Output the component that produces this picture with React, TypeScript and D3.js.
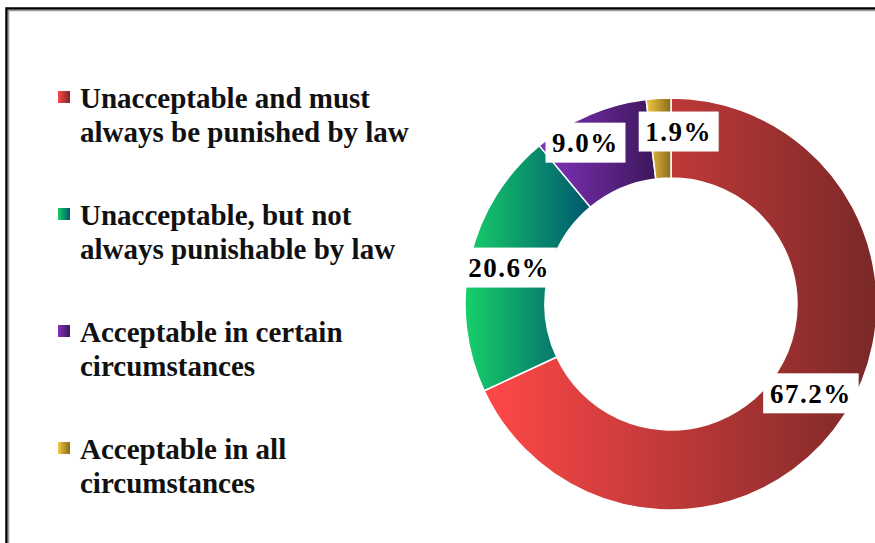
import React from "react";
import * as d3 from "d3";

const categories = [
  "Unacceptable and must always be punished by law",
  "Unacceptable, but not always punishable by law",
  "Acceptable in certain circumstances",
  "Acceptable in all circumstances",
];
const legendLines = [
  ["Unacceptable and must", "always be punished by law"],
  ["Unacceptable, but not", "always punishable by law"],
  ["Acceptable in certain", "circumstances"],
  ["Acceptable in all", "circumstances"],
];
const values = [67.2, 20.6, 9.0, 1.9];
const valueLabels = ["67.2%", "20.6%", "9.0%", "1.9%"];
const gradientStops = [
  ["#ff4848", "#7a2828"],
  ["#17d068", "#00566f"],
  ["#8332bc", "#3c175c"],
  ["#f2cb44", "#8a6a1a"],
];
// manual nudges of the data labels (radius factor, angle shift in radians)
const labelNudge = [
  [1.0, 0],
  [1.0, 0],
  [1.1, -0.08],
  [1.04, 0.105],
];

const W = 875;
const H = 543;
const cx = 671;
const cy = 304;
const outerR = 206;
const innerR = 126;

export default function App() {
  const pie = d3
    .pie<number>()
    .sort(null)
    .value((d) => d);
  const arcs = pie(values);
  const arc = d3
    .arc<d3.PieArcDatum<number>>()
    .innerRadius(innerR)
    .outerRadius(outerR);

  const labelFont = 27;
  const legendFont = 29;

  return (
    <svg
      width={W}
      height={H}
      style={{ position: "absolute", left: 0, top: 0, background: "#fff" }}
    >
      <defs>
        {gradientStops.map((s, i) => (
          <linearGradient key={i} id={`g${i}`} x1="0" y1="0" x2="1" y2="0">
            <stop offset="0" stopColor={s[0]} />
            <stop offset="1" stopColor={s[1]} />
          </linearGradient>
        ))}
      </defs>
      {/* frame */}
      <path d={`M6.5,${H} V8.5 H${W}`} fill="none" stroke="#000" strokeWidth={2.5} />
      <path d={`M8.5,${H} V10.5 H${W}`} fill="none" stroke="#9a9a9a" strokeWidth={1.5} />

      <g transform={`translate(${cx},${cy})`}>
        {arcs.map((a, i) => (
          <path
            key={i}
            d={arc(a) || ""}
            fill={`url(#g${i})`}
            stroke="#fff"
            strokeWidth={1.5}
          />
        ))}
        {arcs.map((a, i) => {
          const mid = (a.startAngle + a.endAngle) / 2 + labelNudge[i][1];
          const r = ((innerR + outerR) / 2) * labelNudge[i][0];
          const x = Math.sin(mid) * r;
          const y = -Math.cos(mid) * r;
          const txt = valueLabels[i];
          const tw = txt.length * 15.5 + 4;
          const bw = tw + 14;
          const bh = 40;
          return (
            <g key={i} transform={`translate(${x},${y})`}>
              <rect x={-bw / 2} y={-bh / 2} width={bw} height={bh} fill="#fff" />
              <text
                textAnchor="middle"
                dy="0.35em"
                fontFamily="'Liberation Serif', 'Times New Roman', serif"
                fontWeight="bold"
                fontSize={labelFont}
                letterSpacing={1.5}
                fill="#000"
              >
                {txt}
              </text>
            </g>
          );
        })}
      </g>

      {legendLines.map((lines, i) => {
        const base = 108 + i * 117;
        return (
          <g key={i}>
            <title>{categories[i]}</title>
            <rect
              x={58}
              y={base - 17}
              width={12}
              height={12}
              fill={`url(#g${i})`}
            />
            {lines.map((l, j) => (
              <text
                key={j}
                x={80}
                y={base + j * 34}
                fontFamily="'Liberation Serif', 'Times New Roman', serif"
                fontWeight="bold"
                fontSize={legendFont}
                fill="#111"
              >
                {l}
              </text>
            ))}
          </g>
        );
      })}
    </svg>
  );
}
